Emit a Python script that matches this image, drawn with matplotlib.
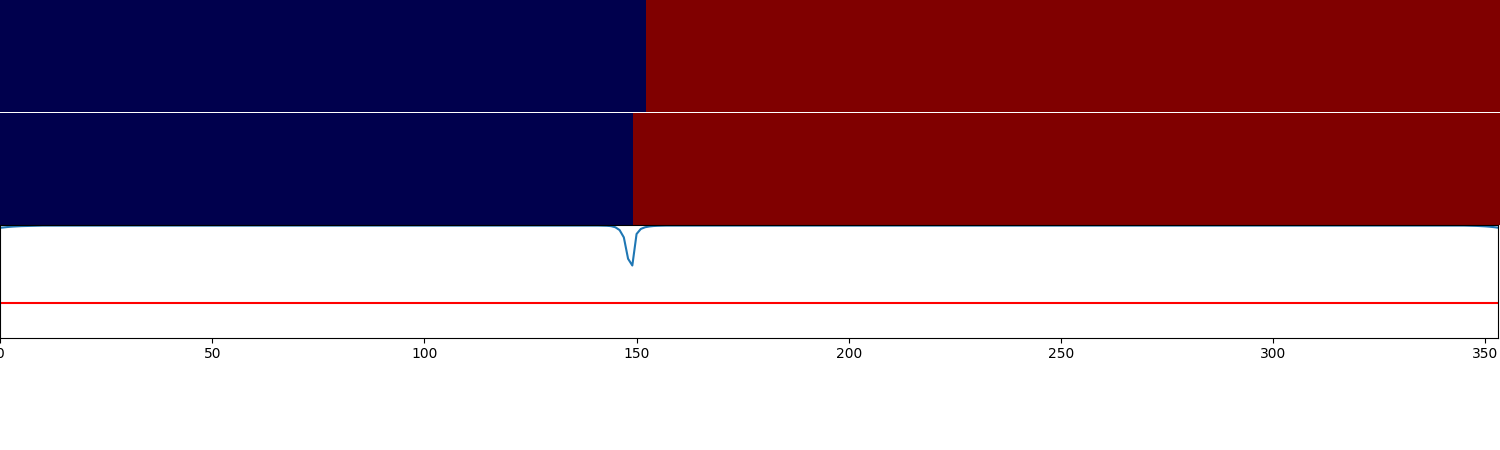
'''two state maps over a similarity trace'''

import matplotlib
matplotlib.use('Agg')
import matplotlib.pyplot as plt
import numpy as np

# state rows: 0 = first state, 1 = second state, per frame
n_frames = 353
switch_top = 152     # first frame of second state, top row
switch_mid = 149     # first frame of second state, middle row
row_top = [0] * switch_top + [1] * (n_frames - switch_top)
row_mid = [0] * switch_mid + [1] * (n_frames - switch_mid)

# similarity trace
sim_start = [0.975, 0.979, 0.983, 0.986, 0.988, 0.99, 0.991, 0.992, 0.993, 0.994]
sim_dip = [0.994, 0.993, 0.99, 0.98, 0.955, 0.89, 0.70, 0.64, 0.92, 0.965,
           0.98, 0.987, 0.991, 0.993, 0.994]
sim_end = [0.994, 0.993, 0.992, 0.99, 0.988, 0.985, 0.981, 0.976]
sim_flat = 0.995
dip_at = 142
similarity = (sim_start + [sim_flat] * (dip_at - len(sim_start)) + sim_dip
              + [sim_flat] * (354 - dip_at - len(sim_dip) - len(sim_end)) + sim_end)
threshold = 0.31

fig = plt.figure(figsize=(15, 4.5), dpi=100)
ax1 = fig.add_axes([0, 1 - 112 / 450, 1, 112 / 450])
ax2 = fig.add_axes([0, 0.5, 1, 1 - 113 / 450 - 0.5])
ax3 = fig.add_axes([0, 0.25, 0.9987, 0.25])

edges = np.arange(n_frames + 1)
for ax, row in [(ax1, row_top), (ax2, row_mid)]:
    ax.pcolormesh(edges, [0, 1], np.array([row]), cmap='seismic',
                  vmin=0, vmax=1)
    ax.set_xlim(0, n_frames)
    ax.axis('off')

ax3.plot(range(len(similarity)), similarity)
ax3.axhline(threshold, color='r')
ax3.set_xlim(0, len(similarity) - 1)
ax3.set_ylim(0, 1)
ax3.set_yticks([])
ax3.set_xticks(range(0, 351, 50))

fig.savefig('out.png')
